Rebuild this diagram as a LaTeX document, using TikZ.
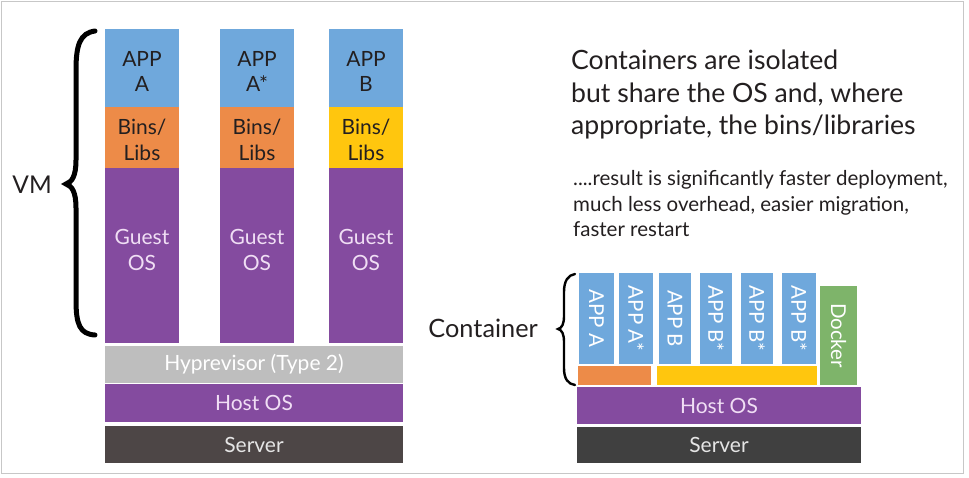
\documentclass[tikz,border=0pt]{standalone}
\usepackage{fontspec}
\setmainfont{Lato}
\definecolor{appblue}{RGB}{111,168,220}
\definecolor{binorange}{RGB}{237,139,72}
\definecolor{binyellow}{RGB}{255,198,14}
\definecolor{ospurple}{RGB}{132,75,159}
\definecolor{hypgray}{RGB}{190,190,190}
\definecolor{serverdarkL}{RGB}{77,70,70}
\definecolor{serverdarkR}{RGB}{64,64,64}
\definecolor{dockgreen}{RGB}{126,180,106}
\definecolor{txtdark}{RGB}{35,31,32}
\definecolor{guesttxt}{RGB}{240,222,244}
\newcommand\blk[7][]{%
  \node[blkbox,#1,minimum width={(#4-#2)*1pt},minimum height={(#5-#3)*1pt}]
    (#6) at ({(#2+#4)/2},{(#3+#5)/2}) {#7};}
\begin{document}
\begin{tikzpicture}[x=1pt,y=-1pt,
  blkbox/.style={rectangle,inner sep=0pt,outer sep=0pt,draw=none,align=center,
    font=\fontsize{21}{25.5}\selectfont},
  boxtxt/.style={inner sep=0pt,align=center,font=\fontsize{21}{25.5}\selectfont},
  darktxt/.style={text=txtdark},
  lighttxt/.style={text=white},
  vlabel/.style={rotate=-90,text=white,inner sep=0pt,font=\fontsize{20.5}{22}\selectfont},
  bracestyle/.style={line width=5pt,black,line cap=round},
  sbracestyle/.style={line width=2.4pt,black,line cap=round}]
\useasboundingbox (0,0) rectangle (969,477);
\draw[black!22,line width=1pt] (1,1) rectangle (963,473);

% ---------- VM stack ----------
\blk[fill=appblue]{105}{29}{179}{107}{appA}{}
\blk[fill=appblue]{220}{29}{294}{107}{appAs}{}
\blk[fill=appblue]{329}{29}{403}{107}{appB}{}
\blk[fill=binorange]{105}{107}{179}{168}{binA}{}
\blk[fill=binorange]{220}{107}{294}{168}{binAs}{}
\blk[fill=binyellow]{329}{107}{403}{168}{binB}{}
\blk[fill=ospurple]{105}{168}{179}{343}{gosA}{}
\blk[fill=ospurple]{220}{168}{294}{343}{gosAs}{}
\blk[fill=ospurple]{329}{168}{403}{343}{gosB}{}
\foreach \n/\t in {appA/{APP\\A},appAs/{APP\\A*},appB/{APP\\B}}
  \node[boxtxt,darktxt] at ([yshift=-3.5pt]\n.center) {\t};
\foreach \n in {binA,binAs,binB}
  \node[boxtxt,darktxt] at ([yshift=-2.5pt]\n.center) {Bins/\\Libs};
\foreach \n in {gosA,gosAs,gosB}
  \node[boxtxt,text=guesttxt] at ([yshift=5.5pt]\n.center) {Guest\\OS};
\blk[fill=hypgray,lighttxt]{105}{346}{403}{383}{hyp}{Hyprevisor (Type 2)}
\blk[fill=ospurple,text=guesttxt]{105}{384}{403}{422}{hostL}{Host OS}
\blk[fill=serverdarkL,text=white!90!black]{105}{426}{403}{463}{serverL}{Server}

% VM brace
\coordinate (vbT) at (95,31);
\coordinate (vbM) at (66,184);
\coordinate (vbB) at (95,335);
\draw[bracestyle] (vbT) .. controls (80,33) and (76,45) .. (76,70)
  -- (76,160) .. controls (76,176) and (72,182) .. (vbM)
  .. controls (72,186) and (76,192) .. (76,208)
  -- (76,300) .. controls (76,325) and (80,334) .. (vbB);
\node[font=\fontsize{24.5}{30}\selectfont,text=txtdark,anchor=east,inner sep=0pt] (vm) at (52,185) {VM};

% ---------- right texts ----------
\node[anchor=north west,align=left,inner sep=0pt,text=txtdark,
  font=\fontsize{26.6}{32.6}\selectfont] (head) at (571,50)
  {Containers are isolated\\but share the OS and, where\\appropriate, the bins/libraries};
\node[anchor=north west,align=left,inner sep=0pt,text=txtdark,
  font=\fontsize{20.5}{25.3}\selectfont] (sub) at (573,170.5)
  {....result is significantly faster deployment,\\much less overhead, easier migration,\\faster restart};

% ---------- Container stack ----------
\blk[fill=appblue]{579}{273}{614}{364}{c1}{}
\blk[fill=appblue]{619}{273}{653}{364}{c2}{}
\blk[fill=appblue]{659}{273}{691}{364}{c3}{}
\blk[fill=appblue]{700}{273}{732}{364}{c4}{}
\blk[fill=appblue]{741}{273}{773}{364}{c5}{}
\blk[fill=appblue]{782}{273}{816}{364}{c6}{}
\node[vlabel] at (c1.center) {APP A};
\node[vlabel] at (c2.center) {APP A*};
\node[vlabel] at (c3.center) {APP B};
\node[vlabel] at (c4.center) {APP B*};
\node[vlabel] at (c5.center) {APP B*};
\node[vlabel] at (c6.center) {APP B*};
\blk[fill=binorange]{578}{366}{651}{385}{cbinA}{}
\blk[fill=binyellow]{657}{366}{817}{385}{cbinB}{}
\blk[fill=dockgreen]{820}{286}{857}{385}{docker}{}
\node[vlabel] at (docker.center) {Docker};
\blk[fill=ospurple,text=guesttxt]{577}{387}{861}{424}{hostR}{Host OS}
\blk[fill=serverdarkR,text=white!90!black]{577}{427}{861}{463}{serverR}{Server}

% container brace
\coordinate (cbT) at (575,274);
\coordinate (cbM) at (558,329);
\coordinate (cbB) at (575,385);
\draw[sbracestyle] (cbT) .. controls (568,275) and (564,281) .. (564,292)
  -- (564,316) .. controls (564,324) and (562,328) .. (cbM)
  .. controls (562,330) and (564,334) .. (564,342)
  -- (564,368) .. controls (564,379) and (568,384) .. (cbB);
\node[font=\fontsize{25.3}{30}\selectfont,text=txtdark,anchor=east,inner sep=0pt] (ctr) at (538,328) {Container};
\end{tikzpicture}
\end{document}
